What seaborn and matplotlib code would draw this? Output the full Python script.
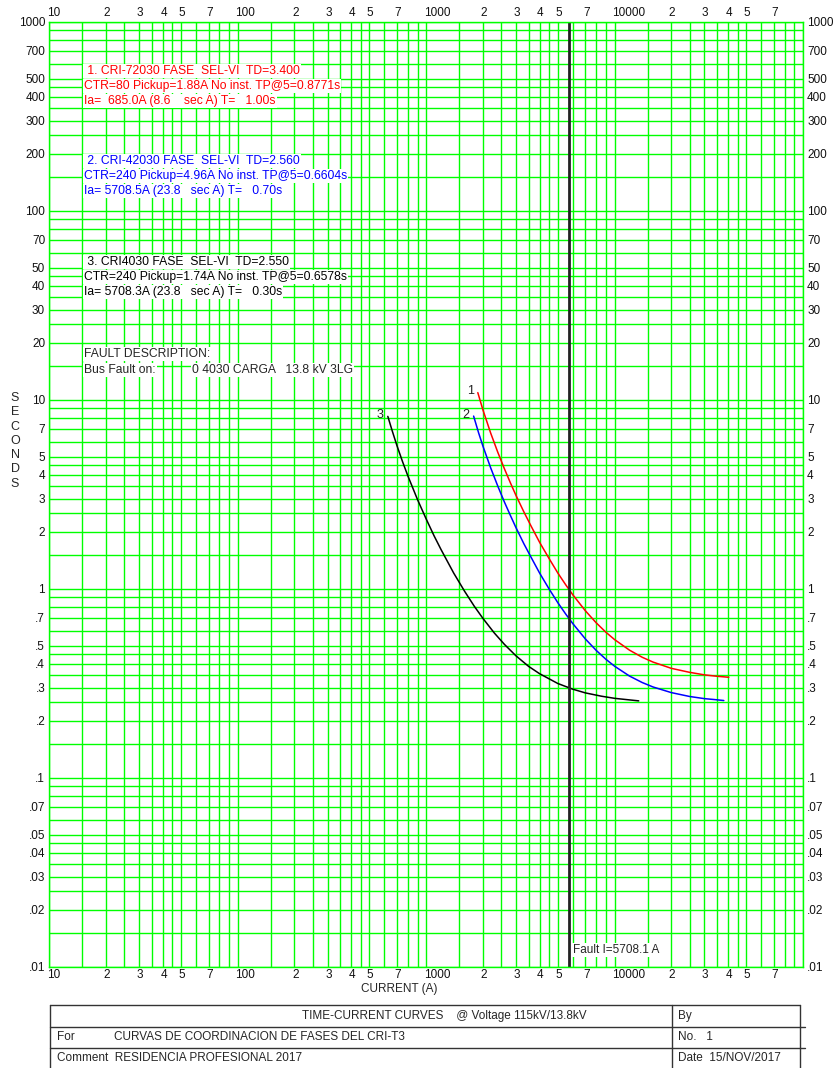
import matplotlib
matplotlib.use('Agg')
import matplotlib.pyplot as plt
import matplotlib.transforms as mtransforms
import seaborn as sns
import pandas as pd
from matplotlib.ticker import FixedLocator, FixedFormatter, NullFormatter
from matplotlib.lines import Line2D

# curve data (current in A, time in s)
red_current = [1880, 2000, 2200, 2400, 2600, 2800, 3000, 3300, 3600, 4000, 4500, 5000, 5500, 6000,
               7000, 8000, 9000, 10000, 12000, 14000, 16000, 20000, 25000, 30000, 35000, 40360]
red_time = [10.9, 8.85, 6.66, 5.27, 4.32, 3.63, 3.11, 2.55, 2.15, 1.76, 1.44, 1.21, 1.05, 0.929,
            0.764, 0.659, 0.588, 0.538, 0.473, 0.434, 0.409, 0.379, 0.361, 0.350, 0.344, 0.340]

blue_current = [1786, 1900, 2000, 2200, 2400, 2600, 2800, 3000, 3300, 3600, 4000, 4500, 5000, 5500,
                6000, 7000, 8000, 9000, 10000, 12000, 14000, 16000, 20000, 25000, 30000, 34000, 38000]
blue_time = [8.19, 6.66, 5.69, 4.36, 3.49, 2.88, 2.44, 2.10, 1.73, 1.47, 1.21, 0.994, 0.843, 0.735,
             0.654, 0.542, 0.471, 0.423, 0.389, 0.345, 0.319, 0.302, 0.282, 0.269, 0.262, 0.259, 0.256]

black_current = [626, 660, 700, 750, 800, 900, 1000, 1100, 1200, 1400, 1600, 1800, 2000, 2300, 2600,
                 3000, 3500, 4000, 5000, 6000, 7000, 8500, 10000, 12000, 13430]
black_time = [8.16, 6.86, 5.71, 4.69, 3.95, 2.96, 2.34, 1.91, 1.61, 1.21, 0.969, 0.808, 0.697, 0.583, 0.508,
              0.441, 0.388, 0.355, 0.315, 0.294, 0.281, 0.270, 0.263, 0.258, 0.255]

fault_current = 5708.1

x_decades = [10, 100, 1000, 10000]
y_decades = [0.01, 0.1, 1, 10, 100]
label_subs = [1, 2, 3, 4, 5, 7]
grid_subs = [1, 1.5, 2, 2.5, 3, 3.5, 4, 4.5, 5, 6, 7, 8, 9]

y_labels_txt = {0.01: '.01', 0.1: '.1', 1: '1', 10: '10', 100: '100'}

W, H = 836, 1068
GREEN = '#00ff00'

sns.set_style('white')
plt.rcParams['font.family'] = ['Liberation Sans', 'DejaVu Sans']


def fx(px):
    return px / W


def fy(py):
    return 1 - py / H


fig = plt.figure(figsize=(W / 100, H / 100), dpi=100)
ax = fig.add_axes([fx(49.3), fy(966.7), (803 - 49.3) / W, (966.7 - 21.7) / H])

# curves
curves = [(red_current, red_time, '#ff0000', '1'),
          (blue_current, blue_time, '#0000ff', '2'),
          (black_current, black_time, '#000000', '3')]
for cx, cy, col, name in curves:
    df = pd.DataFrame({'I': cx, 't': cy})
    sns.lineplot(data=df, x='I', y='t', sort=False, estimator=None, color=col, lw=1.1, ax=ax)
    ax.annotate(name, (cx[0], cy[0]), xytext=(-3, 1), textcoords='offset points',
                ha='right', va='center', fontsize=9, color='#222222')

ax.axvline(fault_current, color='#222222', lw=2)

ax.set_xscale('log')
ax.set_yscale('log')
ax.set_xlim(10, 100000)
ax.set_ylim(0.01, 1000)

# grid on every sub-division
xgrid = [d * s for d in x_decades for s in grid_subs] + [100000]
ygrid = [d * s for d in y_decades for s in grid_subs] + [1000]
ax.xaxis.set_minor_locator(FixedLocator(xgrid))
ax.yaxis.set_minor_locator(FixedLocator(ygrid))
ax.xaxis.set_minor_formatter(NullFormatter())
ax.yaxis.set_minor_formatter(NullFormatter())

xt = [d * s for d in x_decades for s in label_subs]
xl = [str(d) if s == 1 else str(s) for d in x_decades for s in label_subs]
ax.xaxis.set_major_locator(FixedLocator(xt))
ax.xaxis.set_major_formatter(FixedFormatter(xl))

yt, yl = [], []
for d in y_decades + [1000]:
    for s in ([1] if d == 1000 else label_subs):
        v = d * s
        yt.append(v)
        if s == 1:
            yl.append(y_labels_txt.get(d, str(d)))
        elif d < 1:
            yl.append(('%g' % v).lstrip('0'))
        else:
            yl.append('%g' % v)
ax.yaxis.set_major_locator(FixedLocator(yt))
ax.yaxis.set_major_formatter(FixedFormatter(yl))

ax.grid(which='both', color=GREEN, lw=1)
ax.set_axisbelow(True)
ax.tick_params(which='both', length=0, labelsize=8.5, top=True, labeltop=True,
               right=True, labelright=True, pad=3, colors='#111111')
ax.tick_params(axis='x', which='major', pad=2)
for sp in ax.spines.values():
    sp.set_color(GREEN)
    sp.set_linewidth(1)
ax.set_xlabel('')
ax.set_ylabel('')

# x labels start just left of their grid line
shift = mtransforms.ScaledTranslation(-2.5 / 100, 0, fig.dpi_scale_trans)
for tick in ax.xaxis.get_major_ticks():
    for lab in (tick.label1, tick.label2):
        lab.set_horizontalalignment('left')
        lab.set_transform(lab.get_transform() + shift)

# axis titles
fig.text(fx(399), fy(989), 'CURRENT (A)', ha='center', va='center', fontsize=8.5)
for i, ch in enumerate('SECONDS'):
    fig.text(fx(15), fy(398 + i * 14.3), ch, ha='center', va='center', fontsize=9)

# relay descriptions
box = dict(facecolor='white', edgecolor='none', pad=0.6)
blocks = [
    ('#ff0000', 70.7, [' 1. CRI-72030 FASE  SEL-VI  TD=3.400',
                       'CTR=80 Pickup=1.88A No inst. TP@5=0.8771s',
                       'Ia=  685.0A (8.6    sec A) T=   1.00s']),
    ('#0000ff', 160.7, [' 2. CRI-42030 FASE  SEL-VI  TD=2.560',
                        'CTR=240 Pickup=4.96A No inst. TP@5=0.6604s',
                        'Ia= 5708.5A (23.8   sec A) T=   0.70s']),
    ('#000000', 261.7, [' 3. CRI4030 FASE  SEL-VI  TD=2.550',
                        'CTR=240 Pickup=1.74A No inst. TP@5=0.6578s',
                        'Ia= 5708.3A (23.8   sec A) T=   0.30s']),
]
for col, y0, lines in blocks:
    for i, line in enumerate(lines):
        fig.text(fx(84.3), fy(y0 + i * 15), line, ha='left', va='center',
                 fontsize=8.7, color=col, bbox=box)

fig.text(fx(84.3), fy(354), 'FAULT DESCRIPTION:', ha='left', va='center', fontsize=8.7, bbox=box)
fig.text(fx(84.3), fy(370), 'Bus Fault on:', ha='left', va='center', fontsize=8.7, bbox=box)
fig.text(fx(191.7), fy(370), '0 4030 CARGA   13.8 kV 3LG', ha='left', va='center', fontsize=8.7, bbox=box)

fig.text(fx(573), fy(950), 'Fault I=5708.1 A', ha='left', va='center', fontsize=8.5, bbox=box)

# title block
def hline(y, x0, x1):
    fig.add_artist(Line2D([fx(x0), fx(x1)], [fy(y), fy(y)], color='#333333', lw=1))


def vline(x, y0, y1):
    fig.add_artist(Line2D([fx(x), fx(x)], [fy(y0), fy(y1)], color='#333333', lw=1))


hline(1005, 50, 800)
hline(1027, 50, 805)
hline(1047.5, 50, 805)
vline(50, 1005, 1068)
vline(672, 1005, 1068)
vline(800, 1005, 1068)

tb = dict(fontsize=8.5, va='center')
fig.text(fx(587), fy(1016.5), 'TIME-CURRENT CURVES    @ Voltage 115kV/13.8kV', ha='right', **tb)
fig.text(fx(678), fy(1016.5), 'By', ha='left', **tb)
fig.text(fx(57), fy(1037.5), 'For', ha='left', **tb)
fig.text(fx(114), fy(1037.5), 'CURVAS DE COORDINACION DE FASES DEL CRI-T3', ha='left', **tb)
fig.text(fx(678), fy(1037.5), 'No.   1', ha='left', **tb)
fig.text(fx(57), fy(1058), 'Comment  RESIDENCIA PROFESIONAL 2017', ha='left', **tb)
fig.text(fx(678), fy(1058), 'Date  15/NOV/2017', ha='left', **tb)

fig.savefig('out.png', dpi=100, facecolor='white')
